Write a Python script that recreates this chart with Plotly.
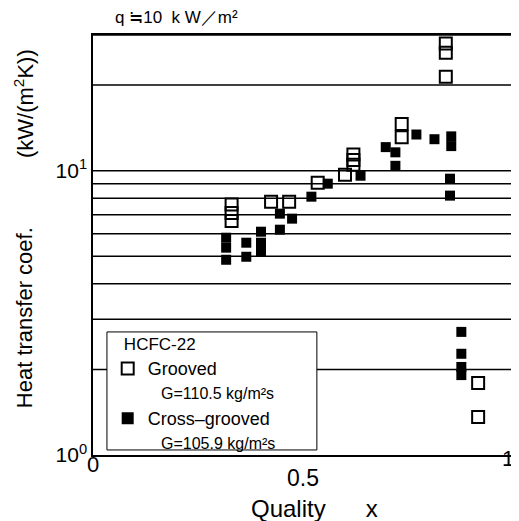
import plotly.graph_objects as go

# Grooved (open squares)
grooved_x = [0.33, 0.33, 0.33, 0.424, 0.467, 0.535, 0.60, 0.62, 0.62, 0.62,
             0.735, 0.735, 0.84, 0.84, 0.84, 0.917, 0.917]
grooved_y = [7.6, 7.1, 6.65, 7.78, 7.78, 9.07, 9.68, 11.4, 10.9, 10.5,
             14.6, 13.1, 28.0, 26.0, 21.4, 1.79, 1.36]

# Cross-grooved (filled squares)
cross_x = [0.317, 0.317, 0.317, 0.365, 0.365, 0.40, 0.40, 0.40, 0.445, 0.445,
           0.474, 0.52, 0.559, 0.637, 0.697, 0.72, 0.72, 0.77, 0.813,
           0.853, 0.853, 0.85, 0.85, 0.877, 0.877, 0.877, 0.877]
cross_y = [5.81, 5.36, 4.86, 5.58, 4.98, 6.1, 5.58, 5.19, 7.06, 6.2,
           6.78, 8.1, 9.0, 9.6, 12.1, 11.6, 10.4, 13.4, 12.9,
           13.2, 12.2, 9.37, 8.17, 2.71, 2.27, 2.04, 1.91]

grid_vals = [2, 3, 4, 5, 6, 7, 8, 9, 10, 20, 30]
ytick_vals = [1, 10]
ytick_text = ["10<sup>0</sup>", "10<sup>1</sup>"]
xtick_vals = [0.5]
xtick_text = ["0.5"]

FONT = "Liberation Sans, Arial, sans-serif"
NB = "\u00a0"

fig = go.Figure()
fig.add_trace(go.Scatter(
    x=grooved_x, y=grooved_y, mode="markers",
    name="Grooved<br><span style='font-size:16px'>" + NB * 3 + "G=110.5 kg/m²s</span>",
    marker=dict(symbol="square-open", size=12, color="black", line=dict(width=2, color="black")),
))
fig.add_trace(go.Scatter(
    x=cross_x, y=cross_y, mode="markers",
    name="Cross–grooved<br><span style='font-size:16px'>" + NB * 3 + "G=105.9 kg/m²s</span>",
    marker=dict(symbol="square", size=10, color="black"),
))

for g in grid_vals:
    fig.add_shape(type="line", xref="x domain", yref="y", x0=0, x1=1, y0=g, y1=g,
                  line=dict(color="black", width=1.5), layer="below")

# legend frame
fig.add_shape(type="rect", xref="paper", yref="paper", x0=0.0332, x1=0.533, y0=0.012, y1=0.293,
              line=dict(color="black", width=1), fillcolor="white", layer="above")

ann_font = dict(family=FONT, size=22, color="black")
fig.add_annotation(text="Heat transfer coef.", xref="paper", yref="paper",
                   x=-0.163, y=0.327, xanchor="center", yanchor="middle",
                   textangle=-90, showarrow=False, font=ann_font)
fig.add_annotation(text="(kW/(m<sup>2</sup>K))", xref="paper", yref="paper",
                   x=-0.163, y=0.837, xanchor="center", yanchor="middle",
                   textangle=-90, showarrow=False, font=ann_font)
fig.add_annotation(text="q ≒10" + NB * 2 + "k W／m²", xref="paper", yref="paper",
                   x=0.047, y=1.042, xanchor="left", yanchor="middle", showarrow=False,
                   font=dict(family=FONT, size=17, color="black"))
fig.add_annotation(text="Quality" + NB * 6 + "x", xref="paper", yref="paper",
                   x=0.527, y=-0.128, xanchor="center", yanchor="middle", showarrow=False,
                   font=dict(family=FONT, size=24, color="black"))
# end tick labels of the x axis
fig.add_annotation(text="0", xref="paper", yref="paper", x=0, y=-0.022,
                   xanchor="center", yanchor="middle", showarrow=False,
                   font=dict(family=FONT, size=22, color="black"))
fig.add_annotation(text="1", xref="paper", yref="paper", x=1, y=-0.008, xshift=-5,
                   xanchor="center", yanchor="middle", showarrow=False,
                   font=dict(family=FONT, size=22, color="black"))

fig.update_layout(
    width=511, height=513,
    margin=dict(l=85, r=4, t=27, b=66),
    paper_bgcolor="white", plot_bgcolor="white",
    font=dict(family=FONT, size=21, color="black"),
    showlegend=True,
    legend=dict(
        x=0.035, y=0.302, xanchor="left", yanchor="top",
        borderwidth=0, bgcolor="rgba(0,0,0,0)",
        font=dict(family=FONT, size=18, color="black"),
        title=dict(text=NB * 3 + "HCFC-22", font=dict(family=FONT, size=17, color="black")),
        tracegroupgap=0, itemsizing="constant", valign="top",
    ),
    xaxis=dict(
        range=[0, 1], tickvals=xtick_vals, ticktext=xtick_text,
        tickfont=dict(size=23),
        showgrid=False, zeroline=False, showline=True, linecolor="black",
        linewidth=1.5, mirror=True, ticks="", ticklabelstandoff=2,
    ),
    yaxis=dict(
        type="log", range=[0, 1.4771], tickvals=ytick_vals, ticktext=ytick_text,
        showgrid=False, zeroline=False, showline=True, linecolor="black",
        linewidth=1.5, mirror=True, ticks="",
    ),
)

fig.write_html("out.html")
